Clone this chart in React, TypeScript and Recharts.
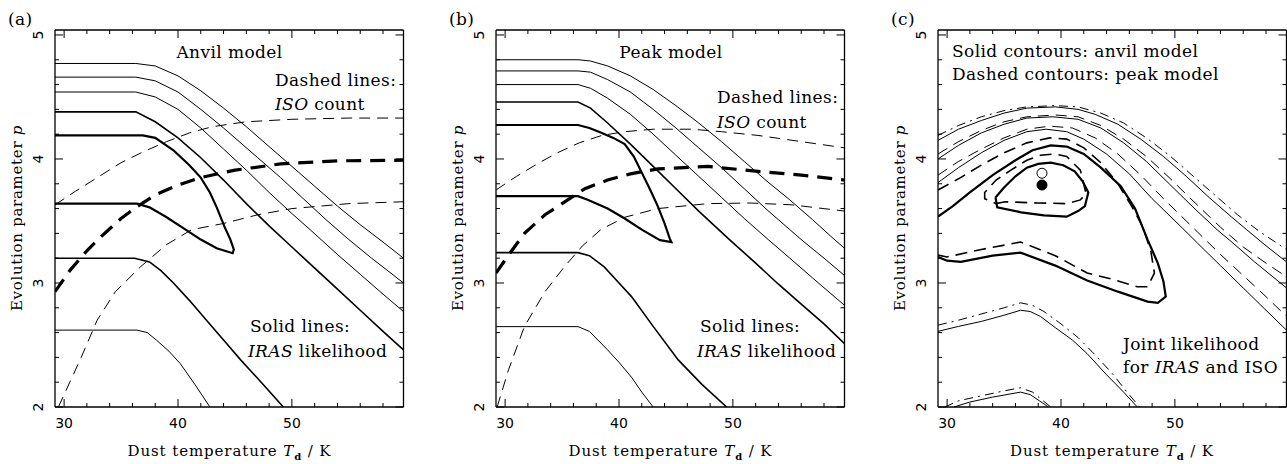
import { ComposedChart, Line, Scatter, XAxis, YAxis } from 'recharts';

type Pt = [number, number];

const xTicks = [30, 32, 34, 36, 38, 40, 42, 44, 46, 48, 50, 52, 54, 56, 58];
const yTicks = [2, 2.2, 2.4, 2.6, 2.8, 3, 3.2, 3.4, 3.6, 3.8, 4, 4.2, 4.4, 4.6, 4.8, 5];

// (a) anvil model: IRAS likelihood contours (solid)
const anvilIras1: Pt[] = [[29.2, 4.77], [36.3, 4.77], [38, 4.75], [40, 4.67], [42, 4.55], [44, 4.41], [46, 4.26], [48, 4.1], [50, 3.94], [52, 3.78], [54, 3.62], [56, 3.47], [58, 3.33], [59.8, 3.2]];
const anvilIras2: Pt[] = [[29.2, 4.66], [36.3, 4.66], [38, 4.63], [40, 4.54], [42, 4.4], [44, 4.25], [45, 4.17], [47, 4.01], [49, 3.85], [51, 3.68], [53, 3.51], [55, 3.35], [57, 3.2], [59.8, 3.0]];
const anvilIras3: Pt[] = [[29.2, 4.54], [36.3, 4.54], [38, 4.5], [40, 4.4], [42, 4.25], [44, 4.08], [46, 3.91], [48, 3.73], [50, 3.56], [51.6, 3.43], [54, 3.23], [56, 3.07], [58, 2.91], [59.8, 2.77]];
const anvilIras4: Pt[] = [[29.2, 4.38], [36.3, 4.38], [38, 4.3], [40, 4.17], [42, 4.01], [44, 3.83], [46, 3.64], [48, 3.46], [50, 3.29], [52, 3.12], [54, 2.95], [56, 2.78], [58, 2.61], [59.8, 2.46]];
const anvilIrasLoop: Pt[] = [[29.2, 4.19], [36.9, 4.19], [38, 4.17], [39.6, 4.07], [41, 3.95], [42, 3.85], [42.8, 3.73], [43.4, 3.61], [44.1, 3.45], [44.6, 3.35], [44.9, 3.27], [44.8, 3.24], [43.4, 3.28], [42, 3.35], [40.5, 3.44], [39, 3.53], [37.5, 3.61], [36.4, 3.64], [29.2, 3.64]];
const anvilIras6: Pt[] = [[29.2, 3.2], [36.2, 3.2], [37.5, 3.17], [38.5, 3.1], [39.6, 3.0], [41, 2.86], [42.5, 2.7], [44, 2.54], [45.5, 2.38], [47.5, 2.18], [49.25, 2.0]];
const anvilIras7: Pt[] = [[29.2, 2.62], [36.4, 2.62], [37.3, 2.6], [38.1, 2.54], [39.2, 2.45], [40.2, 2.35], [41.5, 2.18], [42.8, 2.0]];
// (a) ISO count (dashed)
const anvilIsoHigh: Pt[] = [[29.2, 3.63], [31, 3.74], [33, 3.855], [35, 3.97], [37, 4.06], [39, 4.14], [41, 4.21], [43, 4.26], [46, 4.3], [50, 4.32], [55, 4.33], [59.8, 4.33]];
const anvilIsoMid: Pt[] = [[29.2, 2.93], [30.5, 3.1], [32, 3.26], [33.2, 3.37], [35, 3.52], [36.4, 3.615], [38, 3.71], [40, 3.79], [42, 3.85], [45, 3.91], [49, 3.96], [54, 3.985], [59.8, 3.99]];
const anvilIsoLow: Pt[] = [[29.5, 2.0], [30.5, 2.2], [31.5, 2.4], [32.9, 2.7], [34.5, 2.93], [36.7, 3.13], [39, 3.31], [41.2, 3.43], [44, 3.48], [47, 3.55], [50, 3.6], [55, 3.64], [59.8, 3.655]];

// (b) peak model: IRAS likelihood contours (solid)
const peakIras1: Pt[] = [[29.2, 4.8], [36.4, 4.8], [37.5, 4.79], [39, 4.75], [41, 4.67], [43, 4.56], [45, 4.43], [47, 4.29], [49, 4.14], [51, 3.98], [53, 3.82], [55, 3.67], [57, 3.51], [58.8, 3.36], [59.8, 3.28]];
const peakIras2: Pt[] = [[29.2, 4.71], [36.4, 4.71], [37.5, 4.7], [39, 4.64], [41, 4.54], [43, 4.4], [45, 4.25], [47, 4.09], [49, 3.93], [51, 3.76], [53, 3.59], [55, 3.43], [56, 3.35], [58, 3.2], [59.8, 3.06]];
const peakIras3: Pt[] = [[29.2, 4.6], [36.4, 4.6], [37.5, 4.57], [39, 4.49], [41, 4.36], [43, 4.2], [45, 4.03], [47, 3.86], [49, 3.69], [51, 3.52], [53.1, 3.35], [55, 3.2], [57, 3.04], [59.8, 2.82]];
const peakIras4: Pt[] = [[29.2, 4.46], [36.4, 4.46], [37.5, 4.41], [39, 4.29], [41, 4.12], [43, 3.94], [45, 3.76], [47, 3.58], [49.7, 3.35], [52, 3.16], [54, 2.99], [56, 2.83], [58, 2.67], [59.8, 2.51]];
const peakIrasLoop: Pt[] = [[29.2, 4.274], [36.4, 4.274], [37.4, 4.25], [38.5, 4.21], [39.5, 4.17], [40.5, 4.12], [41.3, 4.02], [42, 3.89], [42.8, 3.74], [43.4, 3.62], [44, 3.48], [44.45, 3.36], [44.6, 3.33], [43.6, 3.345], [42, 3.43], [40.5, 3.52], [39, 3.6], [37.3, 3.67], [36.4, 3.7], [29.2, 3.7]];
const peakIras6: Pt[] = [[29.2, 3.245], [36.4, 3.245], [37.4, 3.22], [38.7, 3.13], [40, 3.0], [41.1, 2.89], [43, 2.65], [45.2, 2.38], [47.3, 2.18], [49.45, 2.0]];
const peakIras7: Pt[] = [[29.2, 2.648], [36.4, 2.648], [37.4, 2.61], [39, 2.46], [40, 2.36], [41.1, 2.24], [42, 2.12], [43, 2.0]];
// (b) ISO count (dashed)
const peakIsoHigh: Pt[] = [[29.2, 3.75], [31, 3.86], [33, 3.97], [34.6, 4.05], [36.5, 4.13], [38.5, 4.19], [40.5, 4.22], [43, 4.24], [46.4, 4.24], [49, 4.22], [52.2, 4.19], [56, 4.14], [59.8, 4.09]];
const peakIsoMid: Pt[] = [[29.2, 3.08], [30.5, 3.25], [31.7, 3.4], [33.5, 3.55], [35.5, 3.67], [37, 3.76], [39, 3.83], [41, 3.88], [43.4, 3.92], [47.8, 3.94], [52.2, 3.9], [56, 3.87], [59.8, 3.83]];
const peakIsoLow: Pt[] = [[29.3, 2.0], [30.3, 2.3], [31.7, 2.65], [33.5, 2.93], [35.2, 3.13], [36.8, 3.3], [38.4, 3.43], [40.5, 3.53], [43.4, 3.6], [47.8, 3.64], [51.5, 3.645], [55.2, 3.63], [59.8, 3.58]];

// (c) joint likelihood: anvil (solid) and peak (dashed)
const jointAnvil1: Pt[] = [[34.25, 3.69], [35, 3.77], [36, 3.86], [37, 3.93], [38, 3.96], [39.1, 3.97], [40.2, 3.95], [41.2, 3.9], [41.9, 3.82], [42.4, 3.73], [42.1, 3.62], [41.5, 3.58], [40.5, 3.535], [38.5, 3.545], [36.5, 3.57], [34.4, 3.61], [34.25, 3.69]];
const jointPeak1: Pt[] = [[35.1, 3.655], [34.3, 3.64], [33.3, 3.68], [33.3, 3.73], [34.3, 3.83], [35.6, 3.91], [37, 3.99], [38.2, 4.03], [39.5, 4.04], [40.5, 4.02], [41.7, 3.91], [42.2, 3.72], [41.7, 3.67], [40.5, 3.64], [38, 3.645], [35.1, 3.655]];
const jointAnvil2: Pt[] = [[29.2, 3.535], [30.5, 3.62], [32, 3.73], [34, 3.87], [36, 3.99], [37.5, 4.07], [39.1, 4.11], [40.5, 4.1], [42, 4.04], [43.5, 3.93], [45.25, 3.78], [46.5, 3.6], [47.6, 3.35], [48.5, 3.16], [49, 3.01], [49.2, 2.89], [48.5, 2.84], [47.6, 2.85], [45, 2.93], [42.3, 3.02], [39.5, 3.14], [36.45, 3.245], [34, 3.22], [31.2, 3.17], [30, 3.18], [29.2, 3.21]];
const jointPeak2: Pt[] = [[29.2, 3.75], [31, 3.84], [33, 3.95], [35, 4.05], [37, 4.13], [39, 4.17], [40.5, 4.16], [42, 4.09], [43.5, 3.97], [45, 3.8], [46.2, 3.62], [47.2, 3.45], [47.9, 3.25], [48.2, 3.08], [47.6, 2.97], [46.7, 2.97], [44.5, 3.03], [42.3, 3.08], [39.5, 3.22], [36.45, 3.33], [33, 3.27], [30, 3.21], [29.2, 3.225]];
const jointAnvil3: Pt[] = [[29.2, 3.81], [31, 3.93], [33, 4.05], [35, 4.15], [37, 4.22], [38.7, 4.24], [40.5, 4.22], [42, 4.16], [44, 4.04], [46, 3.88], [48, 3.68], [50.8, 3.43], [52, 3.32], [54, 3.14], [56, 2.96], [58, 2.78], [59.8, 2.62]];
const jointPeak3: Pt[] = [[29.2, 3.87], [31, 3.98], [33, 4.08], [35, 4.17], [37, 4.24], [39, 4.265], [41, 4.25], [43, 4.17], [45, 4.04], [47, 3.87], [49, 3.68], [52, 3.41], [54, 3.23], [56, 3.06], [58, 2.89], [59.8, 2.73]];
const jointAnvil4: Pt[] = [[29.2, 4.0], [31, 4.11], [33, 4.21], [35, 4.28], [37, 4.33], [39.3, 4.34], [41.5, 4.32], [43.5, 4.25], [45.5, 4.13], [47.5, 3.98], [49.5, 3.8], [51.5, 3.62], [53.7, 3.43], [55, 3.33], [57, 3.17], [59.8, 2.96]];
const jointPeak4: Pt[] = [[29.2, 4.04], [31, 4.14], [33, 4.23], [35, 4.3], [37, 4.34], [39.5, 4.355], [41.5, 4.34], [43.5, 4.27], [45.5, 4.16], [47.5, 4.02], [49.5, 3.85], [51.5, 3.67], [54, 3.45], [56, 3.29], [58, 3.16], [59.8, 3.05]];
const jointAnvil5: Pt[] = [[29.2, 4.15], [31, 4.24], [33, 4.31], [35, 4.37], [37, 4.41], [39.5, 4.42], [41.5, 4.4], [43, 4.36], [45, 4.28], [47, 4.16], [49, 4.02], [51, 3.86], [53, 3.69], [55, 3.53], [56.3, 3.43], [58, 3.3], [59.8, 3.17]];
const jointPeak5: Pt[] = [[29.2, 4.19], [31, 4.27], [33, 4.34], [35, 4.39], [37, 4.42], [39.5, 4.43], [41.5, 4.42], [43.5, 4.37], [45.5, 4.29], [47.5, 4.17], [49.5, 4.03], [51.5, 3.87], [53.5, 3.71], [55.5, 3.55], [57.5, 3.41], [59.8, 3.27]];
const jointAnvilLow3: Pt[] = [[29.2, 2.61], [31, 2.65], [33, 2.69], [35, 2.74], [36.45, 2.78], [37.3, 2.77], [38.2, 2.73], [39.5, 2.64], [41, 2.54], [42.3, 2.43], [44, 2.26], [45.5, 2.12], [46.7, 2.0]];
const jointPeakLow3: Pt[] = [[29.2, 2.66], [31, 2.7], [33, 2.75], [35, 2.8], [36.45, 2.84], [37.5, 2.82], [38.5, 2.77], [40, 2.67], [41.5, 2.56], [43, 2.42], [44.5, 2.27], [45.8, 2.12], [46.9, 2.0]];
const jointAnvilLow4: Pt[] = [[30.6, 2.0], [32, 2.04], [34, 2.08], [36.45, 2.12], [37.3, 2.1], [38.1, 2.05], [38.9, 2.0]];
const jointPeakLow4: Pt[] = [[29.8, 2.0], [31, 2.05], [33, 2.09], [35, 2.13], [36.45, 2.155], [37.5, 2.12], [38.3, 2.06], [39.1, 2.0]];
const bestAnvil: Pt[] = [[38.33, 3.79]];
const bestPeak: Pt[] = [[38.33, 3.885]];

const toRows = (a: Pt[]) => a.map(([x, y]) => ({ x, y }));

type Curve = { data: Pt[]; w: number; dash?: string };

const THIN = 1;
const MED = 1.6;
const THICK = 2.2;
const DASH = '11 7';
const DASH_HEAVY = '15 9';
const DASH_DOT = '9 5 2 5';

const panelA: Curve[] = [
  { data: anvilIras1, w: THIN },
  { data: anvilIras2, w: THIN },
  { data: anvilIras3, w: THIN },
  { data: anvilIras4, w: MED },
  { data: anvilIrasLoop, w: THICK },
  { data: anvilIras6, w: MED },
  { data: anvilIras7, w: THIN },
  { data: anvilIsoHigh, w: THIN, dash: DASH },
  { data: anvilIsoMid, w: 3.2, dash: DASH_HEAVY },
  { data: anvilIsoLow, w: THIN, dash: DASH },
];

const panelB: Curve[] = [
  { data: peakIras1, w: THIN },
  { data: peakIras2, w: THIN },
  { data: peakIras3, w: THIN },
  { data: peakIras4, w: MED },
  { data: peakIrasLoop, w: THICK },
  { data: peakIras6, w: MED },
  { data: peakIras7, w: THIN },
  { data: peakIsoHigh, w: THIN, dash: DASH },
  { data: peakIsoMid, w: 3.2, dash: DASH_HEAVY },
  { data: peakIsoLow, w: THIN, dash: DASH },
];

const panelC: Curve[] = [
  { data: jointAnvil1, w: THICK },
  { data: jointPeak1, w: MED, dash: '12 7' },
  { data: jointAnvil2, w: THICK },
  { data: jointPeak2, w: MED, dash: '12 7' },
  { data: jointAnvil3, w: THIN },
  { data: jointPeak3, w: THIN, dash: DASH },
  { data: jointAnvil4, w: THIN },
  { data: jointPeak4, w: THIN, dash: DASH },
  { data: jointAnvil5, w: THIN },
  { data: jointPeak5, w: THIN, dash: DASH_DOT },
  { data: jointAnvilLow3, w: THIN },
  { data: jointPeakLow3, w: THIN, dash: DASH_DOT },
  { data: jointAnvilLow4, w: THIN },
  { data: jointPeakLow4, w: THIN, dash: DASH_DOT },
];

const PLOT_W = 348.5;
const PLOT_TOP = 30;
const PLOT_BOTTOM = 407;
const MARGIN_L = 45;
const TICK_FONT = 'DejaVu Sans, sans-serif';
const TEXT_FONT = 'DejaVu Serif, serif';

const isMajorX = (v: number) => v % 10 === 0;
const isMajorY = (v: number) => Math.abs(v - Math.round(v)) < 1e-6;

const BottomTick = (p: any) => {
  const v = p.payload.value;
  const major = isMajorX(v);
  return (
    <g>
      <line x1={p.x} y1={p.y} x2={p.x} y2={p.y - (major ? 8 : 4)} stroke="#000" />
      {major && (
        <text x={p.x} y={p.y + 21} textAnchor="middle" fontFamily={TICK_FONT} fontSize={14} fill="#000">
          {v}
        </text>
      )}
    </g>
  );
};

const TopTick = (p: any) => {
  const major = isMajorX(p.payload.value);
  return <line x1={p.x} y1={p.y} x2={p.x} y2={p.y + (major ? 8 : 4)} stroke="#000" />;
};

const LeftTick = (p: any) => {
  const v = p.payload.value;
  const major = isMajorY(v);
  const tx = p.x - 12;
  return (
    <g>
      <line x1={p.x} y1={p.y} x2={p.x + (major ? 8 : 4)} y2={p.y} stroke="#000" />
      {major && (
        <text x={tx} y={p.y} transform={`rotate(-90, ${tx}, ${p.y})`} textAnchor="middle" fontFamily={TICK_FONT} fontSize={14} fill="#000">
          {Math.round(v)}
        </text>
      )}
    </g>
  );
};

const RightTick = (p: any) => {
  const major = isMajorY(p.payload.value);
  return <line x1={p.x} y1={p.y} x2={p.x - (major ? 8 : 4)} y2={p.y} stroke="#000" />;
};

const AXIS_LINE = { stroke: '#000', strokeWidth: 1.3 };

function Panel({ left, width, curves, showBest }: { left: number; width: number; curves: Curve[]; showBest?: boolean }) {
  return (
    <div style={{ position: 'absolute', left, top: 0 }}>
      <ComposedChart
        width={width}
        height={464}
        margin={{ top: PLOT_TOP - 1, bottom: 464 - PLOT_BOTTOM - 1, left: MARGIN_L - 1, right: width - MARGIN_L - PLOT_W - 1 }}
      >
        <XAxis dataKey="x" type="number" domain={[29.2, 59.8]} allowDataOverflow ticks={xTicks} interval={0} height={1} tickSize={0} tickMargin={0} tick={BottomTick} axisLine={AXIS_LINE} tickLine={false} />
        <XAxis xAxisId="top" orientation="top" dataKey="x" type="number" domain={[29.2, 59.8]} allowDataOverflow ticks={xTicks} interval={0} height={1} tickSize={0} tickMargin={0} tick={TopTick} axisLine={AXIS_LINE} tickLine={false} />
        <YAxis dataKey="y" type="number" domain={[2, 5.04]} allowDataOverflow ticks={yTicks} interval={0} width={1} tickSize={0} tickMargin={0} tick={LeftTick} axisLine={AXIS_LINE} tickLine={false} />
        <YAxis yAxisId="right" orientation="right" type="number" domain={[2, 5.04]} allowDataOverflow ticks={yTicks} interval={0} width={1} tickSize={0} tickMargin={0} tick={RightTick} axisLine={AXIS_LINE} tickLine={false} />
        {curves.map((c, i) => (
          <Line
            key={i}
            data={toRows(c.data)}
            dataKey="y"
            type="linear"
            stroke="#000"
            strokeWidth={c.w}
            strokeDasharray={c.dash}
            dot={false}
            activeDot={false}
            isAnimationActive={false}
          />
        ))}
        {showBest && (
          <Scatter
            data={toRows(bestPeak)}
            dataKey="y"
            isAnimationActive={false}
            shape={(p: any) => <circle cx={p.cx} cy={p.cy} r={5} fill="#fff" stroke="#000" strokeWidth={1} />}
          />
        )}
        {showBest && (
          <Scatter
            data={toRows(bestAnvil)}
            dataKey="y"
            isAnimationActive={false}
            shape={(p: any) => <circle cx={p.cx} cy={p.cy} r={5} fill="#000" stroke="#000" />}
          />
        )}
      </ComposedChart>
    </div>
  );
}

const PANEL_LEFTS = [55, 496, 938];

function XTitle({ cx }: { cx: number }) {
  return (
    <text x={cx} y={456} textAnchor="middle" fontFamily={TEXT_FONT} fontSize={15} letterSpacing={0.9}>
      Dust temperature <tspan fontStyle="italic">T</tspan>
      <tspan fontSize={10} fontWeight="bold" dy={4}>d</tspan>
      <tspan dy={-4}> / K</tspan>
    </text>
  );
}

function YTitle({ x }: { x: number }) {
  return (
    <text x={x} y={218} transform={`rotate(-90, ${x}, 218)`} textAnchor="middle" fontFamily={TEXT_FONT} fontSize={15} letterSpacing={0.7}>
      Evolution parameter <tspan fontStyle="italic">p</tspan>
    </text>
  );
}

export default function App() {
  const t = { fontFamily: TEXT_FONT, fontSize: 17, letterSpacing: 0.4 } as const;
  return (
    <div style={{ position: 'absolute', left: 0, top: 0, width: 1287, height: 464, background: '#fff' }}>
      <Panel left={PANEL_LEFTS[0] - MARGIN_L} width={430} curves={panelA} />
      <Panel left={PANEL_LEFTS[1] - MARGIN_L} width={430} curves={panelB} />
      <Panel left={PANEL_LEFTS[2] - MARGIN_L} width={1287 - PANEL_LEFTS[2] + MARGIN_L} curves={panelC} showBest />
      <svg width={1287} height={464} style={{ position: 'absolute', left: 0, top: 0, pointerEvents: 'none' }}>
        <text x={8} y={25} {...t}>(a)</text>
        <text x={449} y={25} {...t}>(b)</text>
        <text x={891} y={25} {...t}>(c)</text>

        <text x={229.5} y={58} textAnchor="middle" {...t}>Anvil model</text>
        <text x={275} y={86} {...t}>Dashed lines:</text>
        <text x={275} y={110} {...t}><tspan fontStyle="italic">ISO</tspan> count</text>
        <text x={250} y={332} {...t}>Solid lines:</text>
        <text x={248} y={357} {...t}><tspan fontStyle="italic">IRAS</tspan> likelihood</text>

        <text x={671} y={58} textAnchor="middle" {...t}>Peak model</text>
        <text x={717} y={103} {...t}>Dashed lines:</text>
        <text x={717} y={128} {...t}><tspan fontStyle="italic">ISO</tspan> count</text>
        <text x={700} y={332} {...t}>Solid lines:</text>
        <text x={697} y={357} {...t}><tspan fontStyle="italic">IRAS</tspan> likelihood</text>

        <text x={952} y={57} {...t}>Solid contours: anvil model</text>
        <text x={952} y={80} {...t}>Dashed contours: peak model</text>
        <text x={1123} y={350} {...t}>Joint likelihood</text>
        <text x={1123} y={373} {...t}>for <tspan fontStyle="italic">IRAS</tspan> and ISO</text>

        <XTitle cx={229.5} />
        <XTitle cx={670.5} />
        <XTitle cx={1112} />
        <YTitle x={22} />
        <YTitle x={463} />
        <YTitle x={905} />
      </svg>
    </div>
  );
}
